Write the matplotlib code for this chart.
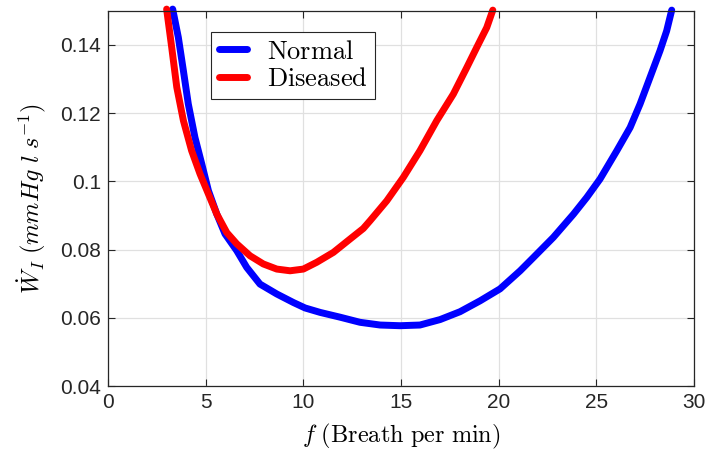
import matplotlib
matplotlib.use('Agg')
import matplotlib.pyplot as plt

plt.rcParams['mathtext.fontset'] = 'cm'
plt.rcParams['font.family'] = ['Liberation Sans', 'DejaVu Sans']

# Normal curve
f_normal = [3.31, 3.6, 3.86, 4.11, 4.45, 4.8, 5.14, 5.57, 5.99, 6.59, 7.1, 7.78, 8.64,
            9.49, 10.09, 10.86, 11.88, 12.9, 13.93, 14.95, 15.97, 17.0, 18.02, 19.05,
            20.07, 21.1, 21.78, 22.8, 23.83, 24.51, 25.19, 26.05, 26.73, 27.24, 27.75,
            28.26, 28.6, 28.86]
w_normal = [0.1505, 0.1422, 0.1324, 0.1227, 0.1129, 0.1051, 0.0973, 0.0904, 0.0846,
            0.0797, 0.0748, 0.0699, 0.0670, 0.0645, 0.0629, 0.0616, 0.0602, 0.0587,
            0.0579, 0.0577, 0.0579, 0.0595, 0.0618, 0.0650, 0.0685, 0.0738, 0.0777,
            0.0836, 0.0904, 0.0953, 0.1007, 0.1090, 0.1158, 0.1227, 0.1305, 0.1383,
            0.1441, 0.1502]

# Diseased curve
f_diseased = [3.0, 3.26, 3.52, 3.86, 4.28, 4.71, 5.14, 5.57, 6.08, 6.59, 7.27, 7.95,
              8.64, 9.32, 10.0, 10.69, 11.54, 12.39, 13.07, 13.42, 14.27, 15.12, 15.97,
              16.83, 17.68, 18.37, 18.88, 19.39, 19.7]
w_diseased = [0.1505, 0.1393, 0.1276, 0.1178, 0.1090, 0.1022, 0.0963, 0.0904, 0.0850,
              0.0817, 0.0782, 0.0758, 0.0743, 0.0738, 0.0743, 0.0763, 0.0792, 0.0831,
              0.0862, 0.0885, 0.0943, 0.1012, 0.1090, 0.1178, 0.1256, 0.1334, 0.1393,
              0.1451, 0.1502]

fig = plt.figure(figsize=(7.06, 4.5), dpi=100)
ax = fig.add_axes([0.153, 0.142, 0.83, 0.834])

ax.plot(f_normal, w_normal, color='#0000ff', lw=5, solid_capstyle='round',
        solid_joinstyle='round', clip_on=False, label=r'$\mathrm{Normal}$')
ax.plot(f_diseased, w_diseased, color='#ff0000', lw=5, solid_capstyle='round',
        solid_joinstyle='round', clip_on=False, label=r'$\mathrm{Diseased}$')

ax.set_xlim(0, 30)
ax.set_ylim(0.04, 0.15)
ax.set_xticks([0, 5, 10, 15, 20, 25, 30])
ax.set_yticks([0.04, 0.06, 0.08, 0.1, 0.12, 0.14])
ax.set_yticklabels(['0.04', '0.06', '0.08', '0.1', '0.12', '0.14'])
ax.grid(True, color='#e0e0e0', lw=0.9)
ax.set_axisbelow(True)
ax.tick_params(direction='in', top=True, right=True, labelsize=15, colors='#262626',
               length=5, width=0.8, pad=5)
for s in ax.spines.values():
    s.set_color('#262626')
    s.set_linewidth(0.9)

ax.set_xlabel(r'$f\ \mathrm{(Breath\ per\ min)}$', fontsize=17.5, labelpad=7)
ax.set_ylabel(r'$\dot{W}_I\ (mmHg\ l\ s^{-1})$', fontsize=17.5, labelpad=8)

leg = ax.legend(loc='upper left', bbox_to_anchor=(0.176, 0.944), fontsize=19,
                fancybox=False, framealpha=1, edgecolor='#262626',
                handlelength=1.05, borderpad=0.3, labelspacing=0.12, handletextpad=0.75,
                borderaxespad=0)
leg.get_frame().set_linewidth(0.8)

fig.savefig('out.png', dpi=100)
